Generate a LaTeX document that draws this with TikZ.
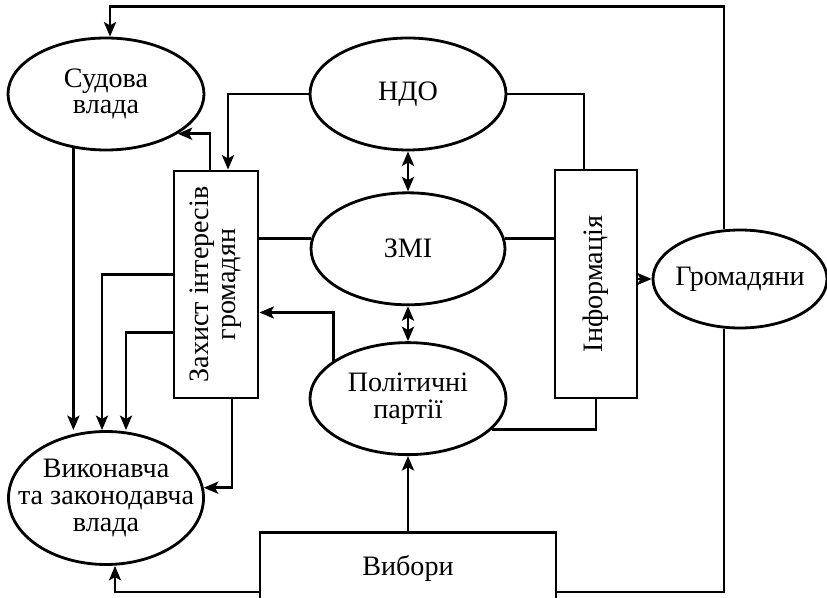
\documentclass[tikz,border=0pt]{standalone}
\usepackage{fontspec}
\setmainfont{Liberation Serif}
\usetikzlibrary{shapes.geometric,arrows.meta,positioning}

\begin{document}
\begin{tikzpicture}[
    font=\fontsize{20}{19}\selectfont,
    ell/.style={ellipse, draw, line width=2pt, inner sep=0pt, align=center, minimum width=4.9cm, minimum height=2.8cm},
    block/.style={rectangle, draw, line width=2pt},
    tip/.tip={Stealth[length=3.6mm, width=3mm, inset=0.8mm]},
    arrow/.style={-tip, line width=2pt},
    darrow/.style={tip-tip, line width=2pt},
    line/.style={line width=2pt}
]
\useasboundingbox (0,0) rectangle (20.675,14.925);

% Ellipses in the middle column
\node[ell] (ndo) at (10.2,12.575) {НДО};
\node[ell, below=1cm of ndo, minimum width=4.85cm] (zmi) {ЗМІ};
\node[ell, below=0.875cm of zmi] (pol) {Політичні\\партії};
\node[block, below=1.875cm of pol, minimum width=7.4cm, minimum height=1.775cm] (vyb) {Вибори};

% Left and right side
\node[ell] (sud) at (2.65,12.575) {Судова\\влада};
\node[ell, minimum width=4.875cm, minimum height=3.325cm, label={[align=center]center:Виконавча\\та законодавча\\влада}] (vyk) at (2.65,2.475) {};
\node[block, minimum width=2.1cm, minimum height=5.675cm, label={[rotate=90, align=center]center:Захист інтересів\\громадян}] (zah) at (5.4,7.8125) {};
\node[block, minimum width=2.05cm, minimum height=5.7cm, label={[rotate=90]center:Інформація}] (inf) at (14.9,7.825) {};
\node[ell, minimum width=4.35cm, minimum height=2.45cm, label=center:Громадяни] (gro) at (18.5,7.95) {};

% Loop round the top and bottom
\draw[arrow] ([xshift=-0.4cm]gro.north) |- ([xshift=0.1cm, yshift=0.75cm]sud.north) -- ([xshift=0.1cm]sud.north);
\draw[line] ([xshift=-0.4cm]gro.south) |- ([yshift=-0.6cm]vyb.east);
\draw[arrow] ([yshift=-0.6cm]vyb.west) -| ([xshift=0.225cm]vyk.south);
\draw[arrow] (vyb) -- (pol);

% Middle connections
\draw[darrow] (ndo) -- (zmi);
\draw[darrow] (zmi) -- (pol);
\draw[line] (zmi.174) -- (zmi.174 -| zah.east);
\draw[line] (zmi.6) -- (zmi.6 -| inf.west);
\draw[line] (ndo.east) -| ([xshift=-0.3cm]inf.north);
\draw[arrow] (ndo.west) -| ([xshift=0.3cm]zah.north);
\draw[line] (pol.-20) -| (inf.south);
\draw[arrow] (pol.153) |- ([yshift=-0.7cm]zah.east);
\draw[arrow] (inf.east |- gro.west) -- (gro.west);

% Into the courts and the government
\draw[arrow] ([xshift=-0.15cm]zah.north) |- (sud.-29);
\draw[arrow] (sud.239) -- (sud.239 |- vyk.north);
\draw[arrow] ([yshift=0.25cm]zah.west) -| ([xshift=-0.1cm]vyk.north);
\draw[arrow] ([yshift=-1.2cm]zah.west) -| ([xshift=0.5cm]vyk.north);
\draw[arrow] ([xshift=0.4cm]zah.south) |- (vyk.6);

\end{tikzpicture}
\end{document}
